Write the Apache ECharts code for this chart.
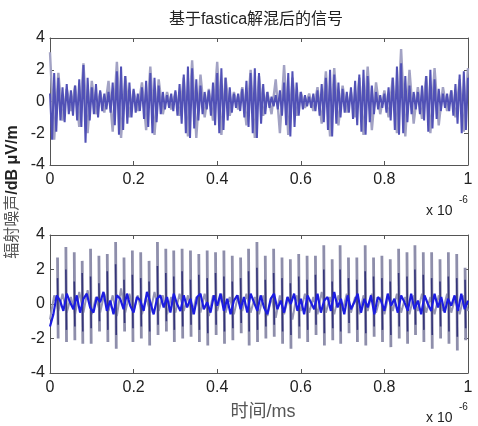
<!DOCTYPE html>
<html><head><meta charset="utf-8">
<script src="https://cdn.jsdelivr.net/npm/echarts@6/dist/echarts.min.js"></script>
<style>html,body{margin:0;padding:0;background:#fff}#c{width:478px;height:426px}</style>
</head><body><div id="c"></div><script>
// ---- data ----
const xTicks = [0, 0.2, 0.4, 0.6, 0.8, 1];
const yTicks = [-4, -2, 0, 2, 4];

const topBlueStep = 0.005;
const topBlue = [
 0.5, -2.4, 1.8, -1.9, 1.5, -1.2, 0.9, -1.3, 1.1, -0.8,
 0.7, -0.9, 1.0, -1.2, 1.4, -1.6, 2.3, -2.6, 1.5, -1.2,
 0.9, -0.8, 1.1, -1.0, 0.7, -0.6, 0.5, -0.5, 0.6, -0.7,
 1.2, -1.5, 1.9, -2.1, 2.2, -1.8, 1.6, -1.4, 1.2, -1.0,
 0.8, -0.7, 0.5, -0.6, 0.9, -1.1, 1.3, -1.6, 1.8, -2.0,
 1.5, -1.3, 1.0, -0.8, 0.6, -0.5, 0.4, -0.4, 0.5, -0.6,
 0.7, -0.9, 1.1, -1.4, 1.7, -2.0, 2.2, -2.3, 2.1, -1.7,
 1.4, -1.2, 1.0, -0.8, 0.6, -0.5, 0.7, -0.9, 1.2, -1.5,
 1.8, -2.0, 2.1, -1.8, 1.5, -1.2, 0.9, -0.7, 0.5, -0.4,
 0.5, -0.6, 0.8, -1.0, 1.3, -1.6, 1.8, -2.0, 2.1, -2.3,
 1.8, -1.4, 1.1, -0.8, 0.6, -0.4, 0.3, -0.3, 0.4, -0.5,
 0.7, -0.9, 1.2, -1.5, 1.8, -2.2, 1.9, -1.6, 1.2, -0.9,
 0.6, -0.5, 0.4, -0.3, 0.3, -0.4, 0.5, -0.6, 0.7, -0.9,
 1.1, -1.3, 1.5, -1.8, 2.0, -2.2, 1.7, -1.4, 1.2, -1.0,
 0.8, -0.7, 0.6, -0.7, 0.9, -1.1, 1.3, -1.5, 1.7, -1.9,
 2.0, -2.1, 1.6, -1.3, 1.0, -0.8, 0.6, -0.5, 0.4, -0.4,
 0.5, -0.7, 0.9, -1.2, 1.5, -1.8, 2.2, -2.1, 2.4, -2.0,
 1.6, -1.3, 1.0, -0.8, 0.6, -0.5, 0.6, -0.8, 1.0, -1.2,
 1.6, -1.9, 2.0, -1.7, 1.4, -1.1, 0.8, -0.6, 0.5, -0.4,
 0.5, -0.6, 0.7, -0.9, 1.1, -1.4, 1.7, -2.0, 1.9, -1.8, 1.5
];

const topGreyStep = 0.01;
const topGrey = [
 3.1, -2.4, 1.8, -1.2, 0.8, -0.6, 1.0, -1.6, 2.4, -2.0,
 1.3, -0.8, 0.6, -0.7, 1.3, -1.9, 2.5, -2.3, 1.6, -1.0,
 0.7, -0.6, 1.2, -1.8, 2.2, -2.1, 1.4, -0.8, 0.6, -0.5,
 0.6, -0.9, 1.5, -2.2, 2.6, -2.3, 1.7, -1.0, 0.8, -1.2,
 2.5, -2.1, 1.5, -0.9, 0.6, -0.5, 0.9, -1.5, 2.0, -2.3,
 1.6, -0.9, 0.6, -0.8, 1.4, -2.0, 2.3, -2.1, 1.5, -0.9,
 0.6, -0.4, 0.5, -0.6, 0.9, -1.4, 1.9, -2.2, 2.1, -1.5,
 1.0, -0.7, 0.6, -1.0, 1.5, -2.1, 2.2, -1.8, 1.2, -0.8,
 0.7, -1.0, 1.5, -2.0, 3.3, -2.2, 2.0, -1.4, 0.9, -1.1,
 1.6, -2.0, 2.1, -1.5, 0.9, -0.6, 0.7, -1.0, 1.4, -1.9,
 2.1
];

const spikeTimes = [
 0.018, 0.038, 0.058, 0.077, 0.097, 0.117, 0.137, 0.157, 0.177, 0.197,
 0.217, 0.237, 0.257, 0.277, 0.296, 0.316, 0.336, 0.356, 0.376, 0.396,
 0.416, 0.436, 0.456, 0.475, 0.495, 0.515, 0.535, 0.555, 0.575, 0.595,
 0.615, 0.635, 0.655, 0.675, 0.694, 0.714, 0.734, 0.754, 0.774, 0.794,
 0.814, 0.834, 0.854, 0.873, 0.893, 0.913, 0.933, 0.953, 0.973, 0.993
];
const spikeHigh = [
 2.7, 3.3, 3.0, 2.5, 3.2, 2.8, 2.9, 3.6, 2.7, 3.1, 3.0, 2.5, 3.6, 3.2, 3.1, 3.2,
 3.1, 2.9, 3.1, 3.0, 3.1, 2.8, 2.7, 3.2, 3.6, 2.8, 3.2, 2.7, 2.6, 2.9, 2.8, 2.8, 3.4,
 2.6, 3.4, 2.7, 2.7, 3.4, 2.7, 2.8, 2.6, 3.2, 3.0, 3.4, 3.0, 3.0, 2.6, 3.0, 2.9, 2.1
];
const spikeLow = [
 -2.0, -2.2, -2.1, -2.3, -2.3, -1.6, -2.2, -2.6, -1.6, -2.2, -2.0, -2.4, -1.8, -1.6, -2.2, -2.0,
 -1.9, -2.2, -2.4, -1.8, -2.3, -2.1, -1.7, -2.4, -2.2, -2.0, -1.9, -2.3, -2.6, -2.0, -2.2, -1.8, -2.4,
 -2.1, -2.3, -1.7, -2.2, -2.4, -1.9, -2.2, -2.5, -2.0, -2.3, -1.8, -2.2, -2.6, -2.0, -2.3, -2.7, -2.1
];
const coreHigh = [
 1.5, 2.0, 1.3, 1.8, 1.6, 1.2, 1.9, 2.3, 1.4, 1.7, 1.5, 1.3, 2.2, 1.8, 1.6, 1.9,
 1.4, 1.7, 1.5, 1.8, 1.6, 1.3, 1.5, 1.9, 2.1, 1.4, 1.8, 1.5, 1.2, 1.6, 1.4, 1.7, 2.0,
 1.3, 2.0, 1.5, 1.4, 1.9, 1.6, 1.5, 1.3, 1.8, 1.6, 2.0, 1.7, 1.5, 1.3, 1.6, 1.5, 1.4
];
const coreLow = [
 -1.2, -1.5, -1.3, -1.6, -1.4, -1.0, -1.5, -1.8, -1.1, -1.4, -1.3, -1.6, -1.2, -1.0, -1.5, -1.3,
 -1.2, -1.5, -1.7, -1.2, -1.6, -1.4, -1.1, -1.6, -1.5, -1.3, -1.2, -1.6, -1.8, -1.3, -1.5, -1.2, -1.7,
 -1.4, -1.6, -1.1, -1.5, -1.7, -1.3, -1.5, -1.8, -1.3, -1.6, -1.2, -1.5, -1.8, -1.3, -1.6, -1.9, -1.4
];

const bottomGreyStep = 0.01;
const bottomGrey = [
 -0.9, 0.5, -0.4, 0.6, -0.5, 0.4, -0.6, 0.7, -0.5, 0.8,
 -0.6, 0.4, -0.5, 0.6, -0.4, 0.5, -0.7, 0.9, -0.5, 0.6,
 -0.4, 0.5, -0.6, 0.4, -0.5, 0.7, -0.4, 0.5, -0.6, 0.4,
 -0.5, 0.6, -0.4, 0.5, -0.6, 0.4, -0.5, 0.6, -0.7, 0.5,
 -0.4, 0.6, -0.5, 0.4, -0.6, 0.5, -0.4, 0.6, -0.5, 0.4,
 -0.6, 0.5, -0.7, 0.4, -0.8, 0.5, -0.6, 0.4, -0.9, 0.5,
 -0.4, 0.6, -0.5, 0.4, -0.6, 0.7, -0.5, 0.4, -0.6, 0.5,
 -0.4, 0.6, -0.5, 0.4, -0.6, 0.5, -0.4, 0.6, -0.5, 0.4,
 -0.6, 0.5, -0.4, 0.6, -0.5, 0.4, -0.6, 0.5, -0.4, 0.6,
 -0.5, 0.4, -0.6, 0.5, -0.4, 0.6, -0.5, 0.4, -0.6, 0.5,
 -0.4
];

const bottomBlueStep = 0.008;
const bottomBlue = [
 -1.3, -0.6, 0.5, 0.2, -0.4, 0.6, 0.1, -0.3, 0.5, -0.5,
 0.3, 0.6, -0.2, -0.5, 0.4, 0.1, 0.7, -0.4, 0.2, -0.6,
 0.5, 0.3, -0.3, 0.6, -0.1, -0.5, 0.4, 0.2, -0.4, 0.7,
 0.1, -0.6, 0.3, 0.5, -0.2, 0.4, -0.5, 0.6, 0.0, -0.4,
 0.5, -0.2, 0.3, -0.6, 0.4, 0.6, -0.3, 0.1, -0.5, 0.5,
 -0.1, 0.6, -0.4, 0.3, -0.6, 0.2, 0.5, -0.3, 0.4, -0.5,
 0.6, 0.1, -0.4, 0.5, -0.2, -0.6, 0.3, 0.6, -0.3, 0.2,
 -0.5, 0.4, 0.0, 0.6, -0.4, 0.3, -0.6, 0.5, 0.1, -0.3,
 0.6, -0.5, 0.2, 0.4, -0.4, 0.7, -0.2, 0.3, -0.6, 0.5,
 -0.3, 0.1, 0.6, -0.5, 0.3, -0.2, 0.5, -0.6, 0.4, 0.2,
 -0.4, 0.6, -0.1, 0.3, -0.5, 0.5, 0.1, -0.4, 0.6, -0.3,
 0.2, -0.6, 0.5, 0.0, -0.4, 0.6, -0.2, 0.4, -0.5, 0.3,
 -0.1, 0.5, -0.4, 0.6, -0.3, 0.2
];

// ---- build ----
const sampled = (arr, step) => arr.map((v, i) => [i * step, v]);
const spikes = (times, hi, lo) => times.flatMap((t, i) => [[t, hi[i]], [t + 0.0015, lo[i]], [t + 0.0015, '-']]);

const FONT = '"Liberation Sans", Arial, "Noto Sans CJK SC", sans-serif';
const AX = '#555';
function xAxes(g) {
  const base = {type: 'value', gridIndex: g, min: xTicks[0], max: xTicks[xTicks.length - 1],
    interval: xTicks[1] - xTicks[0], splitLine: {show: false},
    axisLine: {show: true, onZero: false, lineStyle: {color: AX}},
    axisTick: {show: true, inside: true, length: 4, lineStyle: {color: AX}}};
  return [
    Object.assign({}, base, {position: 'bottom', axisLabel: {color: '#222', fontSize: 16, margin: 7, fontFamily: FONT}}),
    Object.assign({}, base, {position: 'top', axisLabel: {show: false}})
  ];
}
function yAxes(g) {
  const base = {type: 'value', gridIndex: g, min: yTicks[0], max: yTicks[yTicks.length - 1],
    interval: yTicks[1] - yTicks[0], splitLine: {show: false},
    axisLine: {show: true, onZero: false, lineStyle: {color: AX}},
    axisTick: {show: true, inside: true, length: 4, lineStyle: {color: AX}}};
  return [
    Object.assign({}, base, {position: 'left', axisLabel: {color: '#222', fontSize: 16, margin: 5, fontFamily: FONT}}),
    Object.assign({}, base, {position: 'right', axisLabel: {show: false}})
  ];
}

const chart = echarts.init(document.getElementById('c'), null, {renderer: 'canvas'});
const lineBase = {type: 'line', showSymbol: false, symbol: 'none', animation: false, z: 2};
chart.setOption({
  animation: false,
  backgroundColor: '#ffffff',
  grid: [
    {left: 50, right: 10, top: 38, height: 127},
    {left: 50, right: 10, top: 235, height: 138}
  ],
  xAxis: [...xAxes(0), ...xAxes(1)],
  yAxis: [...yAxes(0), ...yAxes(1)],
  series: [
    Object.assign({}, lineBase, {xAxisIndex: 0, yAxisIndex: 0, data: sampled(topGrey, topGreyStep),
      lineStyle: {color: '#a2a2c4', width: 2.4}}),
    Object.assign({}, lineBase, {xAxisIndex: 0, yAxisIndex: 0, data: sampled(topBlue, topBlueStep),
      lineStyle: {color: '#5151b6', width: 2}}),
    Object.assign({}, lineBase, {xAxisIndex: 2, yAxisIndex: 2, data: sampled(bottomGrey, bottomGreyStep),
      lineStyle: {color: '#9696b4', width: 2}}),
    Object.assign({}, lineBase, {xAxisIndex: 2, yAxisIndex: 2, data: spikes(spikeTimes, spikeHigh, spikeLow),
      connectNulls: false, lineStyle: {color: '#8e8eab', width: 2.8}}),
    Object.assign({}, lineBase, {xAxisIndex: 2, yAxisIndex: 2, data: spikes(spikeTimes, coreHigh, coreLow),
      connectNulls: false, lineStyle: {color: '#36367a', width: 1.6}}),
    Object.assign({}, lineBase, {xAxisIndex: 2, yAxisIndex: 2, data: sampled(bottomBlue, bottomBlueStep),
      lineStyle: {color: '#1c1ce0', width: 2.2}})
  ],
  graphic: [
    {type: 'text', x: 256, y: 20, style: {text: '基于fastica解混后的信号', fontSize: 16, fontFamily: FONT,
      fill: '#222', textAlign: 'center', textVerticalAlign: 'middle'}},
    {type: 'text', x: 13, y: 192, rotation: Math.PI / 2, style: {
      text: '{a|辐射噪声}{b|/dB μV/m}', textAlign: 'center', textVerticalAlign: 'middle',
      rich: {a: {fontSize: 16, fontFamily: FONT, fill: '#555'}, b: {fontSize: 16, fontWeight: 'bold', fontFamily: FONT, fill: '#222'}}}},
    {type: 'text', x: 263, y: 412, style: {text: '时间/ms', fontSize: 18, fontFamily: FONT, fill: '#555',
      textAlign: 'center', textVerticalAlign: 'middle'}},
    {type: 'text', x: 426, y: 211, style: {text: 'x 10', fontSize: 14, fontFamily: FONT, fill: '#222', textVerticalAlign: 'middle'}},
    {type: 'text', x: 459, y: 200, style: {text: '-6', fontSize: 10, fontFamily: FONT, fill: '#222', textVerticalAlign: 'middle'}},
    {type: 'text', x: 426, y: 418, style: {text: 'x 10', fontSize: 14, fontFamily: FONT, fill: '#222', textVerticalAlign: 'middle'}},
    {type: 'text', x: 459, y: 407, style: {text: '-6', fontSize: 10, fontFamily: FONT, fill: '#222', textVerticalAlign: 'middle'}}
  ]
});
</script></body></html>
